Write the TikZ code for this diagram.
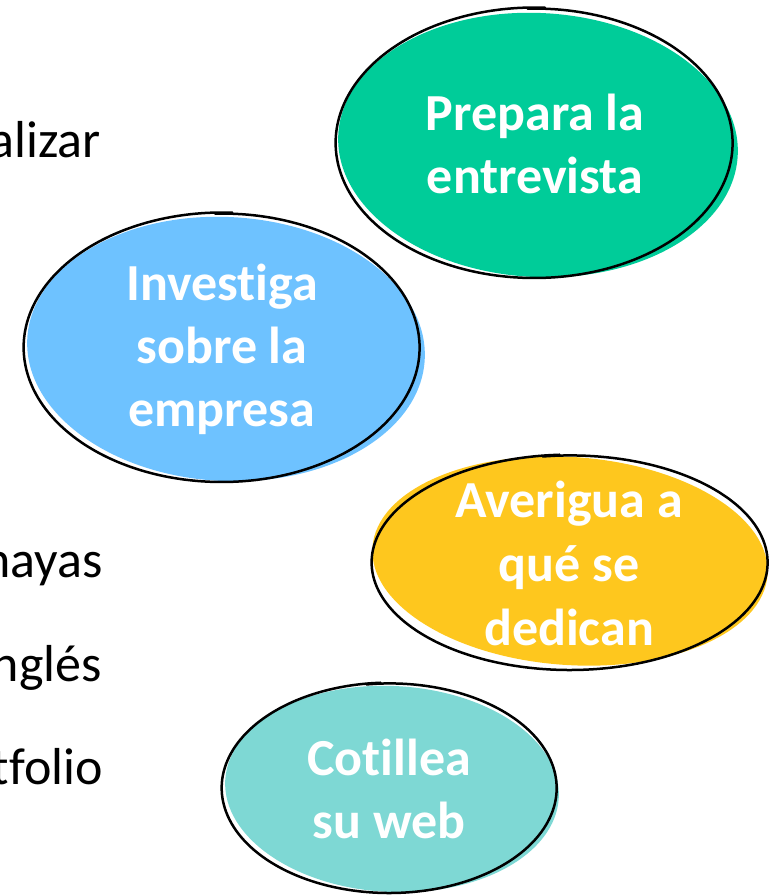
\documentclass[tikz,border=0pt]{standalone}
\usepackage{fontspec}
\setmainfont{Carlito}[Ligatures={NoCommon,NoContextual}]
\definecolor{bgreen}{RGB}{0,204,153}
\definecolor{bblue}{RGB}{110,194,255}
\definecolor{byellow}{RGB}{254,199,30}
\definecolor{bteal}{RGB}{126,216,212}
\begin{document}
\begin{tikzpicture}[x=1pt,y=-1pt,
  outline/.style={draw=black,line width=2.5pt,line join=round,line cap=round},
  bubtext/.style={text=white,font=\fontsize{52}{63}\selectfont\bfseries,inner sep=0pt,anchor=base},
  sidetext/.style={text=black,font=\fontsize{52}{63}\selectfont,inner sep=0pt,anchor=base east}]
\useasboundingbox (0,0) rectangle (781,895);

% green bubble
\fill[bgreen, rotate around={-3:(538,145)}] (538,145) ellipse [x radius=200, y radius=132];
\draw[outline] plot[smooth, domain=268:633, samples=90, variable=\t]
  ({534.5+198.5*(0.996+0.008*(\t-268)/365)*cos(\t)}, {143+135*(0.996+0.008*(\t-268)/365)*sin(\t)});
\node[bubtext] (g1) at (535,130) {Prepara la};
\node[bubtext] (g2) at (535,193) {entrevista};

% blue bubble
\fill[bblue, rotate around={-3:(226,349)}] (226,349) ellipse [x radius=199, y radius=132];
\draw[outline] plot[smooth, domain=268:633, samples=90, variable=\t]
  ({222+198*(0.996+0.008*(\t-268)/365)*cos(\t)}, {347.5+134.5*(0.996+0.008*(\t-268)/365)*sin(\t)});
\node[bubtext] (b1) at (222,300) {Investiga};
\node[bubtext] (b2) at (222,363) {sobre la};
\node[bubtext] (b3) at (222,426) {empresa};

% yellow bubble
\fill[byellow, rotate around={-4:(570,561)}] (570,561) ellipse [x radius=198, y radius=104];
\draw[outline] plot[smooth, domain=262:627, samples=90, variable=\t]
  ({570+198*(0.996+0.008*(\t-262)/365)*cos(\t)}, {562.5+107.5*(0.996+0.008*(\t-262)/365)*sin(\t)});
\node[bubtext] (y1) at (569,517) {Averigua a};
\node[bubtext] (y2) at (569,581) {qué se};
\node[bubtext] (y3) at (569,645) {dedican};

% teal bubble
\fill[bteal, rotate around={-3:(392,789)}] (392,789) ellipse [x radius=167, y radius=103];
\draw[outline] plot[smooth, domain=262:627, samples=90, variable=\t]
  ({389.5+167.5*(0.996+0.008*(\t-262)/365)*cos(\t)}, {788+105*(0.996+0.008*(\t-262)/365)*sin(\t)});
\node[bubtext] (t1) at (389,775) {Cotillea};
\node[bubtext] (t2) at (389,838) {su web};

% cropped text on the left
\node[sidetext] (s1) at (101,157) {alizar};
\node[sidetext] (s2) at (103,577) {hayas};
\node[sidetext] (s3) at (102,681) {nglés};
\node[sidetext] (s4) at (103,784) {tfolio};
\end{tikzpicture}
\end{document}
